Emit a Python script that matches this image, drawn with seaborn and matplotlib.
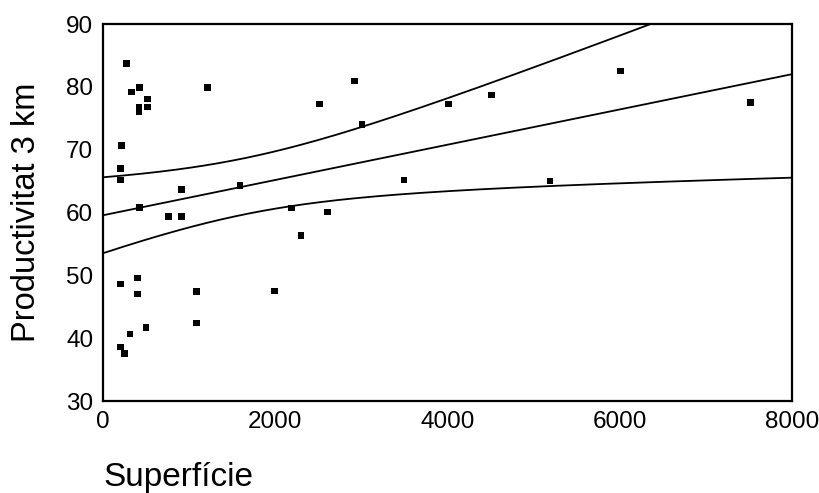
import numpy as np
import pandas as pd
import matplotlib.pyplot as plt
import seaborn as sns

# values
superficie = [275, 329, 422, 515, 515, 418, 418, 1211, 217, 205, 205, 914, 422, 758,
              914, 205, 403, 403, 1088, 1989, 1088, 499, 313, 205, 252, 2918, 2516,
              3007, 4009, 4508, 3494, 5190, 2186, 2608, 2299, 6006, 7519, 1591]
productivitat = [83.7, 79.2, 79.9, 78.1, 76.8, 76.7, 76.1, 79.9, 70.7, 67.0, 65.2, 63.7,
                 60.8, 59.4, 59.4, 48.6, 49.6, 47.0, 47.4, 47.5, 42.4, 41.7, 40.7, 38.6,
                 37.6, 80.9, 77.3, 74.0, 77.3, 78.7, 65.2, 65.0, 60.7, 60.1, 56.3, 82.5,
                 77.5, 64.3]
x_ticks = [0, 2000, 4000, 6000, 8000]
y_ticks = [30, 40, 50, 60, 70, 80, 90]

df = pd.DataFrame({'Superficie': superficie, 'Productivitat': productivitat})

# linear fit with 95% confidence band for the mean
x = df['Superficie'].values
y = df['Productivitat'].values
n = len(x)
b, a = np.polyfit(x, y, 1)
resid = y - (a + b * x)
s = np.sqrt(np.sum(resid ** 2) / (n - 2))
sxx = np.sum((x - x.mean()) ** 2)
t_val = 2.03
grid = np.linspace(0, 8000, 200)
fit = a + b * grid
half = t_val * s * np.sqrt(1 / n + (grid - x.mean()) ** 2 / sxx)
band = pd.DataFrame({'x': grid, 'fit': fit, 'lo': fit - half, 'hi': fit + half})

sns.set_style('white')
plt.rcParams['font.family'] = ['Liberation Sans', 'DejaVu Sans']
plt.rcParams['text.color'] = 'black'
plt.rcParams['axes.labelcolor'] = 'black'
plt.rcParams['xtick.color'] = 'black'
plt.rcParams['ytick.color'] = 'black'

fig = plt.figure(figsize=(8.19, 4.93), dpi=100)
ax = fig.add_axes([0.1258, 0.1866, 0.8412, 0.7647])

sns.scatterplot(data=df, x='Superficie', y='Productivitat', marker='s', s=22,
                color='black', edgecolor='none', ax=ax, zorder=3)
for col in ['fit', 'lo', 'hi']:
    sns.lineplot(data=band, x='x', y=col, color='black', linewidth=1.3, ax=ax)

ax.set_xlim(0, 8000)
ax.set_ylim(30, 90)
ax.set_xticks(x_ticks)
ax.set_yticks(y_ticks)
ax.tick_params(direction='out', length=3, width=2, labelsize=17.5, pad=4)

for sp in ax.spines.values():
    sp.set_linewidth(1.6)
    sp.set_color('black')

ax.set_ylabel('Productivitat 3 km', fontsize=23.5)
ax.yaxis.set_label_coords(-0.088, 0.5)
ax.set_xlabel('Superfície', fontsize=24, ha='left')
ax.xaxis.set_label_coords(0.0, -0.162)

fig.savefig('out.png', dpi=100)
